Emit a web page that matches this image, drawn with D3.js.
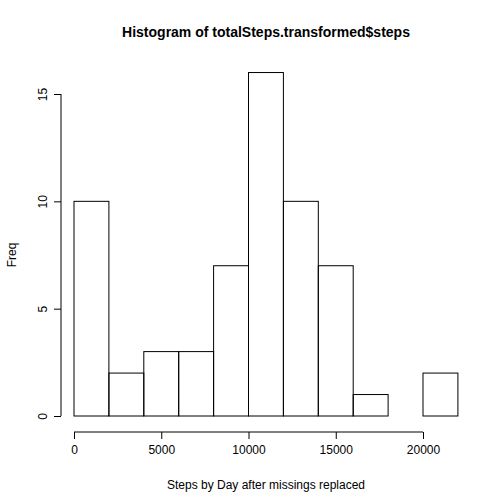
<!DOCTYPE html>
<html>
<head>
<meta charset="utf-8">
<script src="https://cdn.jsdelivr.net/npm/d3@7"></script>
<style>
  body { margin: 0; background: #fff; }
  text { font-family: "Liberation Sans", Arial, sans-serif; }
</style>
</head>
<body>
<div class="chart"></div>
<script>
// histogram bins (lower edges, width 2000) and counts
var binStarts = [0, 2000, 4000, 6000, 8000, 10000, 12000, 14000, 16000, 18000, 20000];
var binWidth = 2000;
var counts = [10, 2, 3, 3, 7, 16, 10, 7, 1, 0, 2];
var xTicks = [0, 5000, 10000, 15000, 20000];
var yTicks = [0, 5, 10, 15];

var svg = d3.select(".chart").append("svg")
  .attr("width", 504)
  .attr("height", 504);

var x = d3.scaleLinear().domain([0, 20000]).range([74, 423]);
var y = d3.scaleLinear().domain([0, 15]).range([416, 94]);

// bars
svg.selectAll("rect")
  .data(counts)
  .enter()
  .append("rect")
  .attr("x", (d, i) => x(binStarts[i]))
  .attr("width", (d, i) => x(binStarts[i] + binWidth) - x(binStarts[i]))
  .attr("y", d => y(d))
  .attr("height", d => y(0) - y(d))
  .attr("fill", "none")
  .attr("stroke", "#000")
  .attr("stroke-width", 1);

// x axis
var xAxis = d3.axisBottom(x).tickValues(xTicks).tickSize(7).tickPadding(6).tickFormat(d3.format("d"));
svg.append("g")
  .attr("transform", "translate(0,432)")
  .call(xAxis)
  .call(g => g.selectAll("text").attr("font-size", 12).attr("fill", "#000"))
  .call(g => g.select(".domain").attr("d", "M" + x(0) + ",0H" + x(20000)));

// y axis, labels rotated like R's default
var yAxis = d3.axisLeft(y).tickValues(yTicks).tickSize(7);
svg.append("g")
  .attr("transform", "translate(61,0)")
  .call(yAxis)
  .call(g => g.select(".domain").attr("d", "M0," + y(0) + "V" + y(15)))
  .call(g => g.selectAll("text")
    .attr("font-size", 12).attr("fill", "#000")
    .attr("transform", "rotate(-90)")
    .attr("x", 0).attr("y", -14).attr("dy", 0)
    .attr("text-anchor", "middle"));

// title and labels
svg.append("text")
  .attr("x", 266).attr("y", 37)
  .attr("text-anchor", "middle")
  .attr("font-size", 14).attr("font-weight", "bold")
  .text("Histogram of totalSteps.transformed$steps");

svg.append("text")
  .attr("x", 266).attr("y", 489)
  .attr("text-anchor", "middle")
  .attr("font-size", 12)
  .text("Steps by Day after missings replaced");

svg.append("text")
  .attr("transform", "translate(16,255) rotate(-90)")
  .attr("text-anchor", "middle")
  .attr("font-size", 12)
  .text("Freq");
</script>
</body>
</html>
